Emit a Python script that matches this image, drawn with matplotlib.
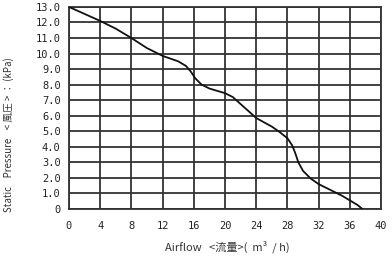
import matplotlib
matplotlib.use('Agg')
import matplotlib.pyplot as plt

# 读取的曲线数据
airflow = [0, 2, 4, 6, 8, 10, 12, 14, 15, 15.6, 16.2, 17, 18, 20, 21, 22, 24, 26, 27, 28, 28.6, 29, 29.4, 30, 31, 32, 33, 34, 35, 36, 37, 37.6]
pressure = [13.0, 12.55, 12.1, 11.6, 11.0, 10.35, 9.85, 9.5, 9.2, 8.85, 8.4, 8.0, 7.75, 7.45, 7.2, 6.75, 5.85, 5.3, 4.95, 4.55, 4.1, 3.6, 3.0, 2.45, 1.95, 1.6, 1.35, 1.1, 0.85, 0.55, 0.25, 0.0]

x_ticks = list(range(0, 41, 4))
y_ticks = list(range(0, 14))
y_labels = ['0'] + ['%.1f' % v for v in y_ticks[1:]]

fig = plt.figure(figsize=(3.92, 2.57), dpi=100)
ax = fig.add_axes([0.176, 0.187, 0.796, 0.786])

ax.plot(airflow, pressure, color='#111111', lw=1.3, zorder=3)

ax.set_xlim(0, 40)
ax.set_ylim(0, 13)
ax.set_xticks(x_ticks)
ax.set_yticks(y_ticks)
ax.set_xticklabels([str(v) for v in x_ticks], fontsize=7.5, family='DejaVu Sans Mono', color='#222222')
ax.set_yticklabels(y_labels, fontsize=7.5, family='DejaVu Sans Mono', color='#222222')
ax.tick_params(length=0, pad=6)
ax.tick_params(axis='x', pad=9)
ax.grid(True, color='#333333', lw=1.3)
for s in ax.spines.values():
    s.set_color('#333333')
    s.set_linewidth(1.3)

ax.set_xlabel('Airflow   <流量>(  m³  / h)', fontsize=8, family=['Noto Sans CJK JP', 'DejaVu Sans'],
              color='#333333')
ax.set_ylabel('Static    Pressure    < 風圧 > ： (kPa)', fontsize=7, family=['Noto Sans CJK JP', 'DejaVu Sans'],
              color='#333333')
ax.xaxis.set_label_coords(0.506, -0.155)
ax.yaxis.set_label_coords(-0.175, 0.37)

fig.savefig('out.png', dpi=100)
